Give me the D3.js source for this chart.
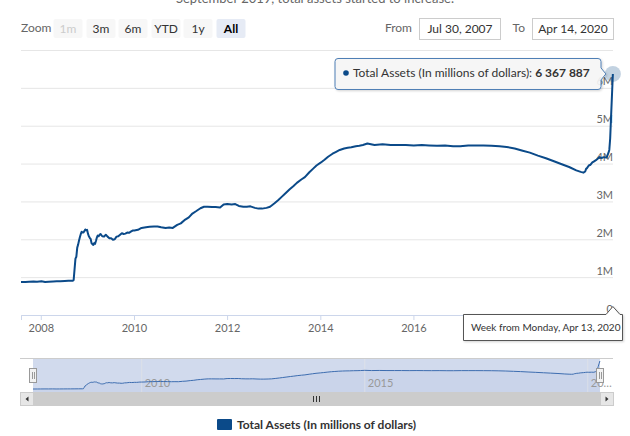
<!DOCTYPE html>
<html><head><meta charset="utf-8">
<script src="https://cdn.jsdelivr.net/npm/d3@7"></script>
<style>
html,body{margin:0;padding:0;background:#fff;}
svg{display:block;font-family:Lato,"Open Sans",sans-serif;}
</style></head>
<body><svg id="c" width="630" height="436"></svg>
<script>
// ---- data (millions of dollars) ----
const dates = ["2007-07-30","2007-09-03","2007-10-01","2007-11-05","2007-12-03","2008-01-07","2008-02-04","2008-03-03","2008-04-07","2008-05-05","2008-06-02","2008-07-07","2008-08-04","2008-09-08","2008-09-15","2008-09-22","2008-09-29","2008-10-06","2008-10-13","2008-10-20","2008-10-27","2008-11-03","2008-11-10","2008-11-17","2008-11-24","2008-12-01","2008-12-08","2008-12-15","2008-12-22","2008-12-29","2009-01-05","2009-01-12","2009-01-19","2009-01-26","2009-02-02","2009-02-09","2009-02-16","2009-02-23","2009-03-02","2009-03-09","2009-03-16","2009-03-23","2009-03-30","2009-04-13","2009-04-27","2009-05-11","2009-05-25","2009-06-08","2009-06-22","2009-07-06","2009-07-20","2009-08-03","2009-08-17","2009-08-31","2009-09-14","2009-09-28","2009-10-12","2009-10-26","2009-11-09","2009-11-23","2009-12-07","2009-12-21","2010-01-04","2010-02-01","2010-03-01","2010-04-05","2010-05-03","2010-06-07","2010-07-05","2010-08-02","2010-09-06","2010-10-04","2010-11-01","2010-12-06","2011-01-03","2011-02-07","2011-03-07","2011-04-04","2011-05-02","2011-06-06","2011-07-04","2011-08-01","2011-09-05","2011-10-03","2011-11-07","2011-12-05","2012-01-02","2012-02-06","2012-03-05","2012-04-02","2012-05-07","2012-06-04","2012-07-02","2012-08-06","2012-09-03","2012-10-01","2012-11-05","2012-12-03","2013-01-07","2013-02-04","2013-03-04","2013-04-01","2013-05-06","2013-06-03","2013-07-01","2013-08-05","2013-09-02","2013-10-07","2013-11-04","2013-12-02","2014-01-06","2014-02-03","2014-03-03","2014-04-07","2014-05-05","2014-06-02","2014-07-07","2014-08-04","2014-09-01","2014-10-06","2014-11-03","2014-12-01","2015-01-05","2015-03-02","2015-05-04","2015-07-06","2015-09-07","2015-11-02","2016-01-04","2016-03-07","2016-05-02","2016-07-04","2016-09-05","2016-11-07","2017-01-02","2017-03-06","2017-05-01","2017-07-03","2017-09-04","2017-11-06","2018-01-01","2018-03-05","2018-05-07","2018-07-02","2018-09-03","2018-11-05","2019-01-07","2019-03-04","2019-05-06","2019-07-01","2019-08-05","2019-08-26","2019-09-09","2019-09-16","2019-09-23","2019-10-07","2019-10-21","2019-11-04","2019-11-18","2019-12-02","2019-12-16","2019-12-30","2020-01-13","2020-02-03","2020-02-24","2020-03-09","2020-03-16","2020-03-23","2020-03-30","2020-04-06","2020-04-13"];
const totalAssets = [869000,872000,878000,884000,880000,889000,874000,880000,885000,890000,893000,898000,903000,906000,926000,1210000,1490000,1540000,1780000,1860000,1970000,2060000,2140000,2200000,2180000,2180000,2220000,2260000,2240000,2250000,2150000,2080000,2040000,2010000,1900000,1870000,1850000,1900000,1880000,1960000,2050000,2100000,2080000,2140000,2080000,2070000,2120000,2070000,2030000,2030000,1990000,2000000,2070000,2080000,2120000,2160000,2140000,2150000,2180000,2170000,2200000,2230000,2230000,2250000,2300000,2320000,2330000,2340000,2340000,2320000,2300000,2310000,2300000,2380000,2420000,2520000,2580000,2680000,2740000,2820000,2860000,2860000,2850000,2850000,2840000,2920000,2930000,2920000,2930000,2880000,2860000,2860000,2870000,2830000,2810000,2810000,2830000,2860000,2950000,3030000,3120000,3210000,3320000,3400000,3490000,3580000,3640000,3770000,3860000,3950000,4030000,4100000,4180000,4260000,4310000,4360000,4400000,4420000,4430000,4460000,4470000,4490000,4530000,4490000,4510000,4490000,4490000,4490000,4480000,4490000,4480000,4470000,4480000,4460000,4460000,4480000,4480000,4480000,4470000,4460000,4440000,4400000,4340000,4290000,4210000,4140000,4060000,3990000,3910000,3820000,3780000,3760000,3790000,3860000,3880000,3950000,3970000,4030000,4060000,4090000,4130000,4170000,4150000,4170000,4160000,4280000,4360000,4670000,5250000,5810000,6367887];
const yTicks = [0,1e6,2e6,3e6,4e6,5e6,6e6,7e6];
const xTickYears = [2008,2010,2012,2014,2016,2018,2020];
const navTickYears = [2010,2015,2020];
const zoomButtons = ["1m","3m","6m","YTD","1y","All"];
const rangeFrom = "Jul 30, 2007", rangeTo = "Apr 14, 2020";
const seriesName = "Total Assets (In millions of dollars)";
const subtitle = "September 2019, total assets started to increase.";
const tooltipHeader = "Week from Monday, Apr 13, 2020";

const parse = d3.timeParse("%Y-%m-%d");
const data = dates.map((d,i)=>({date:parse(d), v:totalAssets[i]}));
const domainX = [parse("2007-07-30"), parse("2020-04-14")];
const color = "#0b4a89";
const FONT = "Lato,'Open Sans',sans-serif";

const svg = d3.select("#c");

// subtitle (cut at top)
svg.append("text").attr("x",315).attr("y",3).attr("text-anchor","middle")
  .attr("font-size",13).attr("fill","#666").text(subtitle);

// ---- range selector ----
svg.append("text").attr("x",21).attr("y",32).attr("font-size",12).attr("fill","#666").text("Zoom");
const btnC = [68,101,133,166,198,231];
const bg = svg.append("g").selectAll("g").data(zoomButtons).join("g")
  .attr("transform",(d,i)=>`translate(${btnC[i]-14.5},19)`);
bg.append("rect").attr("width",29).attr("height",19).attr("rx",2)
  .attr("fill",d=>d==="All"?"#e6ebf5":"#f7f7f7");
bg.append("text").attr("x",14.5).attr("y",13.5).attr("text-anchor","middle").attr("font-size",12)
  .attr("font-weight",d=>d==="All"?"bold":"normal")
  .attr("fill",d=>d==="1m"?"#cccccc":(d==="All"?"#000":"#333")).text(d=>d);

svg.append("text").attr("x",412).attr("y",32).attr("text-anchor","end").attr("font-size",12).attr("fill","#666").text("From");
svg.append("rect").attr("x",419.5).attr("y",18.5).attr("width",81).attr("height",21).attr("fill","#fff").attr("stroke","#cccccc");
svg.append("text").attr("x",460).attr("y",33).attr("text-anchor","middle").attr("font-size",12).attr("fill","#333").text(rangeFrom);
svg.append("text").attr("x",525).attr("y",32).attr("text-anchor","end").attr("font-size",12).attr("fill","#666").text("To");
svg.append("rect").attr("x",532.5).attr("y",18.5).attr("width",81).attr("height",21).attr("fill","#fff").attr("stroke","#cccccc");
svg.append("text").attr("x",573).attr("y",33).attr("text-anchor","middle").attr("font-size",12).attr("fill","#333").text(rangeTo);

// ---- main chart ----
const x = d3.scaleTime().domain(domainX).range([21,613]);
const y = d3.scaleLinear().domain([0,7e6]).range([315,50]);

const yAxis = svg.append("g").attr("transform","translate(613,0)")
  .call(d3.axisLeft(y).tickValues(yTicks).tickSize(592).tickFormat(v=>v===0?"0":(v/1e6)+"M"));
yAxis.select(".domain").remove();
yAxis.selectAll(".tick line").attr("stroke","#e6e6e6");
yAxis.selectAll(".tick text").attr("x",0).attr("dy","-3").attr("text-anchor","end")
  .attr("font-size",11).attr("fill","#666").attr("font-family",FONT)
  .filter(v=>v===7e6).remove();

// crosshair label box (x range it covers)
const boxL = 463.5, boxR = 622.5;
const xAxis = svg.append("g").attr("transform","translate(0,315)")
  .call(d3.axisBottom(x).tickValues(xTickYears.map(yy=>new Date(yy,0,1))).tickSize(5).tickPadding(4).tickFormat(d3.timeFormat("%Y")));
xAxis.select(".domain").attr("stroke","#ccd6eb");
xAxis.selectAll(".tick line").attr("stroke","#ccd6eb");
xAxis.selectAll(".tick text").attr("font-size",11).attr("fill","#666").attr("font-family",FONT);
// labels hidden behind the opaque crosshair label
xAxis.selectAll(".tick").filter(d=>x(d)+14>boxL).select("text").remove();

svg.append("path").datum(data)
  .attr("d",d3.line().x(d=>x(d.date)).y(d=>y(d.v)))
  .attr("fill","none").attr("stroke",color).attr("stroke-width",2).attr("stroke-linejoin","round");

// halo on hovered point
const last = data[data.length-1];
svg.append("circle").attr("cx",x(last.date)).attr("cy",y(last.v)).attr("r",8)
  .attr("fill",color).attr("fill-opacity",0.25);

// ---- navigator ----
const nx = d3.scaleTime().domain(domainX).range([33,600]);
const ny = d3.scaleLinear().domain(d3.extent(totalAssets)).range([389,361]);
svg.append("path").datum(data)
  .attr("d",d3.area().x(d=>nx(d.date)).y0(392).y1(d=>ny(d.v)))
  .attr("fill","#335cad").attr("fill-opacity",0.05);
svg.append("rect").attr("x",33).attr("y",358).attr("width",567).attr("height",34)
  .attr("fill","rgb(102,133,194)").attr("fill-opacity",0.3);
const navAxis = svg.append("g").attr("transform","translate(0,358)")
  .call(d3.axisBottom(nx).tickValues(navTickYears.map(yy=>new Date(yy,0,1))).tickSize(34)
    .tickFormat(d=>d.getFullYear()===2020?"20…":d3.timeFormat("%Y")(d)));
navAxis.select(".domain").remove();
navAxis.selectAll(".tick line").attr("stroke","#e6e6e6").attr("stroke-opacity",0.6);
navAxis.selectAll(".tick text").attr("x",3).attr("y",29).attr("dy",0).attr("text-anchor","start")
  .attr("font-size",11).attr("fill","#999").attr("font-family",FONT);
svg.append("path").datum(data)
  .attr("d",d3.line().x(d=>nx(d.date)).y(d=>ny(d.v)))
  .attr("fill","none").attr("stroke","#3d6db0").attr("stroke-width",1);
svg.append("line").attr("x1",20).attr("x2",613).attr("y1",358.5).attr("y2",358.5).attr("stroke","#cccccc");
[33,600].forEach(hx=>{
  svg.append("rect").attr("x",hx-3.5).attr("y",368.5).attr("width",7).attr("height",14)
    .attr("fill","#f2f2f2").attr("stroke","#999999");
  [-1,1].forEach(o=>svg.append("line").attr("x1",hx+o+0.5).attr("x2",hx+o+0.5).attr("y1",372).attr("y2",379).attr("stroke","#999999"));
});

// scrollbar
svg.append("rect").attr("x",20).attr("y",392).attr("width",593).attr("height",14).attr("fill","#f2f2f2");
svg.append("rect").attr("x",33).attr("y",392).attr("width",567).attr("height",14).attr("fill","#cccccc");
[[20,"L"],[600,"R"]].forEach(([bx,dir])=>{
  svg.append("rect").attr("x",bx+0.5).attr("y",392.5).attr("width",13).attr("height",13).attr("fill","#e6e6e6").attr("stroke","#cccccc");
  const cx = bx+7, cy=399;
  svg.append("path").attr("d", dir==="L" ? `M${cx+1.5},${cy-2.5}L${cx-1.5},${cy}L${cx+1.5},${cy+2.5}Z` : `M${cx-1.5},${cy-2.5}L${cx+1.5},${cy}L${cx-1.5},${cy+2.5}Z`).attr("fill","#333");
});
[-3,0,3].forEach(o=>svg.append("line").attr("x1",316.5+o).attr("x2",316.5+o).attr("y1",396).attr("y2",402).attr("stroke","#333"));

// legend
svg.append("rect").attr("x",217).attr("y",419).attr("width",15).attr("height",11).attr("rx",1).attr("fill",color);
svg.append("text").attr("x",237).attr("y",429).attr("font-size",12).attr("font-weight","bold").attr("fill","#333").text(seriesName);

// ---- tooltips ----
const defs = svg.append("defs");
const f = defs.append("filter").attr("id","sh").attr("x","-10%").attr("y","-30%").attr("width","130%").attr("height","180%");
f.append("feDropShadow").attr("dx",1).attr("dy",1).attr("stdDeviation",1.2).attr("flood-color","#000").attr("flood-opacity",0.18);

// main tooltip
const px = x(last.date), py = y(last.v);
svg.append("path").attr("d",`M338,58.5H598a3,3 0 0 1 3,3V${py-6}L${px-7},${py}L601,${py+6}V86.5a3,3 0 0 1 -3,3H338a3,3 0 0 1 -3,-3V61.5a3,3 0 0 1 3,-3Z`)
  .attr("fill","#f7f7f7").attr("fill-opacity",0.9).attr("stroke","#4f7fb5").attr("stroke-width",1).attr("filter","url(#sh)");
svg.append("circle").attr("cx",346).attr("cy",73).attr("r",2.8).attr("fill",color);
const tt = svg.append("text").attr("x",353).attr("y",77).attr("font-size",12).attr("fill","#333");
tt.append("tspan").text(seriesName+": ");
tt.append("tspan").attr("font-weight","bold").text(d3.format(",")(last.v).replace(/,/g," "));

// x crosshair label
svg.append("path").attr("d",`M${boxL},314.5H606L${px},306.5L620,314.5H${boxR}V340.5H${boxL}Z`)
  .attr("fill","#fff").attr("stroke","#555").attr("stroke-width",1).attr("filter","url(#sh)");
svg.append("text").attr("x",471).attr("y",331).attr("font-size",10).attr("fill","#333").text(tooltipHeader);
</script></body></html>
